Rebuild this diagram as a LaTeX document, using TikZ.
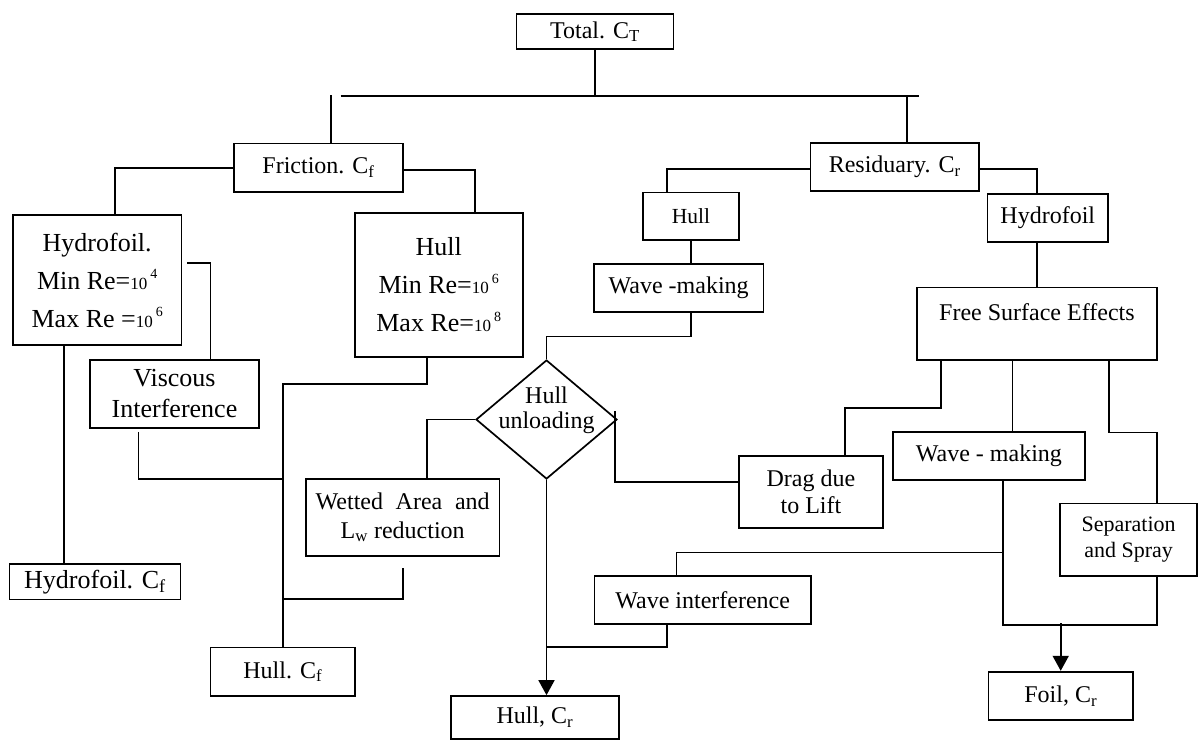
\documentclass[tikz,border=0pt]{standalone}
\usepackage{fontspec}
\setmainfont{Liberation Serif}
\usepackage{tikz}
\usetikzlibrary{positioning,shapes,arrows.meta}

\newcommand{\fmain}{\fontsize{24}{28}\selectfont}
\newcommand{\fbig}{\fontsize{26}{38}\selectfont}
\newcommand{\fvisc}{\fontsize{26}{31}\selectfont}
\newcommand{\fsmall}{\fontsize{21.5}{26.5}\selectfont}
\newcommand{\ftwo}{\fontsize{24}{27.7}\selectfont}
\newcommand{\tens}[1]{{\fontsize{17}{17}\selectfont 10}\kern3pt\raisebox{10.5pt}{\fontsize{14}{14}\selectfont #1}}

\tikzset{
  block/.style={
    % The shape:
    rectangle,
    % The border:
    draw=black, line width=1.7pt,
    % The text:
    inner sep=0pt, align=center, font=\fmain
  },
  decision/.style={
    % The shape:
    diamond, aspect=1.185,
    % The border:
    draw=black, line width=1.7pt,
    % The text:
    inner sep=-10pt, align=center, font=\fontsize{24}{25}\selectfont
  },
  box size/.style 2 args={minimum width=#1pt, minimum height=#2pt}
}

\begin{document}
\begin{tikzpicture}[x=1pt,y=-1pt,line width=1.7pt,
                    tip/.style={-{Triangle[length=15pt,width=16pt]}}]
  \useasboundingbox (0,0) rectangle (1198,740);

  % top and first level
  \node[block, box size={157}{35}]   (total)     at (595,31.7)    {Total. C\textsubscript{T}};
  \node[block, box size={169}{48.7}] (friction)  at (318.5,167.7) {Friction. C\textsubscript{f}};
  \node[block, box size={168.6}{48}] (residuary) at (894.7,167)   {Residuary. C\textsubscript{r}};

  % friction side
  \node[block, box size={168.4}{130}, font=\fbig] (hydro)    at (97.2,280)    {Hydrofoil.\\Min Re=\tens{4}\\Max Re =\tens{6}};
  \node[block, box size={168}{144}, font=\fbig]   (hullfric) at (438.7,284.7) {Hull\\Min Re=\tens{6}\\Max Re=\tens{8}};
  \node[block, box size={168.4}{67.7}, font=\fvisc] (viscous) at (174.5,393.8) {Viscous\\Interference};
  \node[block, box size={171}{35.3}, font=\fontsize{26}{30}\selectfont] (hydrocf) at (95,581.7) {Hydrofoil. C\textsubscript{f}};
  \node[block, box size={144.5}{48.7}] (hullcf) at (282.8,671.7) {Hull. C\textsubscript{f}};
  \node[block, box size={193.4}{76.4}, font=\fontsize{24}{28.3}\selectfont] (wetted) at (402.7,517.5)
       {\makebox[174pt][s]{Wetted Area and}\\L\textsubscript{w} reduction};

  % residuary side
  \node[block, box size={96.4}{47.7}, font=\fsmall] (hullres) at (691,216.2) {Hull};
  \node[block, box size={169.3}{48}]  (wavemk)   at (678.7,288)  {Wave -making};
  \node[block, box size={120.4}{48}]  (hydrores) at (1047.8,218) {Hydrofoil};
  \node[block, box size={240.2}{72.7}, text height=16pt, text depth=23.4pt] (fse) at (1036.9,323.7) {Free Surface Effects};
  \node[decision, minimum width=141pt, minimum height=119pt, text depth=23.9pt] (hullload) at (546.5,419.5) {Hull\\unloading};
  \node[block, box size={144.2}{71.7}, font=\ftwo] (drag) at (810.9,491.8) {Drag due\\to Lift};
  \node[block, box size={192.3}{48.3}] (wavemk2) at (988.9,455.8) {Wave - making};
  \node[block, box size={136.7}{72.7}, font=\fontsize{22}{26.7}\selectfont] (sep) at (1128.6,539.7) {Separation\\and Spray};
  \node[block, box size={216.7}{48.3}] (waveint) at (702.7,599.8) {Wave interference};
  \node[block, box size={168.2}{43}]   (hullcr)  at (534.9,717.5) {Hull, C\textsubscript{r}};
  \node[block, box size={144.7}{48.3}] (foil)    at (1060.7,695.8) {Foil, C\textsubscript{r}};

  % bar under the total
  \coordinate (barL) at (340.6,95.7);
  \coordinate (barR) at (918.7,95.7);
  \draw (barL) -- (barR);
  \draw (total) -- (total |- barR);
  \draw ([xshift=12.5pt]friction.north) -- ++(0,-47.6);
  \draw ([xshift=12.3pt]residuary.north) -- ++(0,-47.6);

  % friction branch
  \draw (friction.west) -| ([xshift=17.6pt]hydro.north);
  \draw ([yshift=-2.3pt]friction.east) -| ([xshift=36.3pt]hullfric.north);
  \draw ([xshift=5pt,yshift=16.7pt]hydro.east) -| ([xshift=36pt]viscous.north);
  \draw ([xshift=-33.2pt]hydro.south) coordinate (h1) -- (h1 |- hydrocf.north);
  \draw ([xshift=-36pt,yshift=-3.3pt]viscous.south) |- (hullcf.north |- 0,479);
  \draw ([xshift=-12pt]hullfric.south) -- ++(0,26.6) -| (hullcf.north);
  \draw ([yshift=-11.6pt]wetted.south) |- (hullcf.north |- 0,599.3);

  % residuary branch
  \draw ([yshift=-1.7pt]residuary.west) -| ([xshift=-24pt]hullres.north);
  \draw ([yshift=-1.7pt]residuary.east) -| ([xshift=-10.8pt]hydrores.north);
  \draw (hullres.south) -- (hullres.south |- wavemk.north);
  \draw (hullres.south |- wavemk.south) -- ++(0,23.7) -| (hullload.north);
  \draw (fse.north) -- (fse.north |- hydrores.south);
  \draw ([xshift=-95.6pt]fse.south) -- ++(0,47.3) -| ([xshift=33.9pt]drag.north);
  \draw ([xshift=-24.4pt]fse.south) coordinate (f2) -- (f2 |- wavemk2.north);
  \draw ([xshift=72pt]fse.south) -- ++(0,71.7) -| ([xshift=28.4pt]sep.north);

  % hull unloading
  \draw (hullload.west) -| ([xshift=24pt]wetted.north);
  \draw ([xshift=-2.7pt,yshift=8.5pt]hullload.east) |- ([yshift=10.1pt]drag.west);
  \draw[tip] (hullload.south) -- (hullload.south |- hullcr.north);
  \draw ([xshift=-35.7pt]waveint.south) |- (hullload.south |- 0,647.3);

  % foil residuary
  \draw ([xshift=14.1pt]wavemk2.south) -- ++(0,144) -| ([xshift=28.4pt]sep.south);
  \draw ([xshift=14.1pt]wavemk2.south) ++(0,71.7) -| ([xshift=-26.3pt]waveint.north);
  \draw[tip] ([yshift=47.7pt]foil.north) -- (foil.north);
\end{tikzpicture}
\end{document}
